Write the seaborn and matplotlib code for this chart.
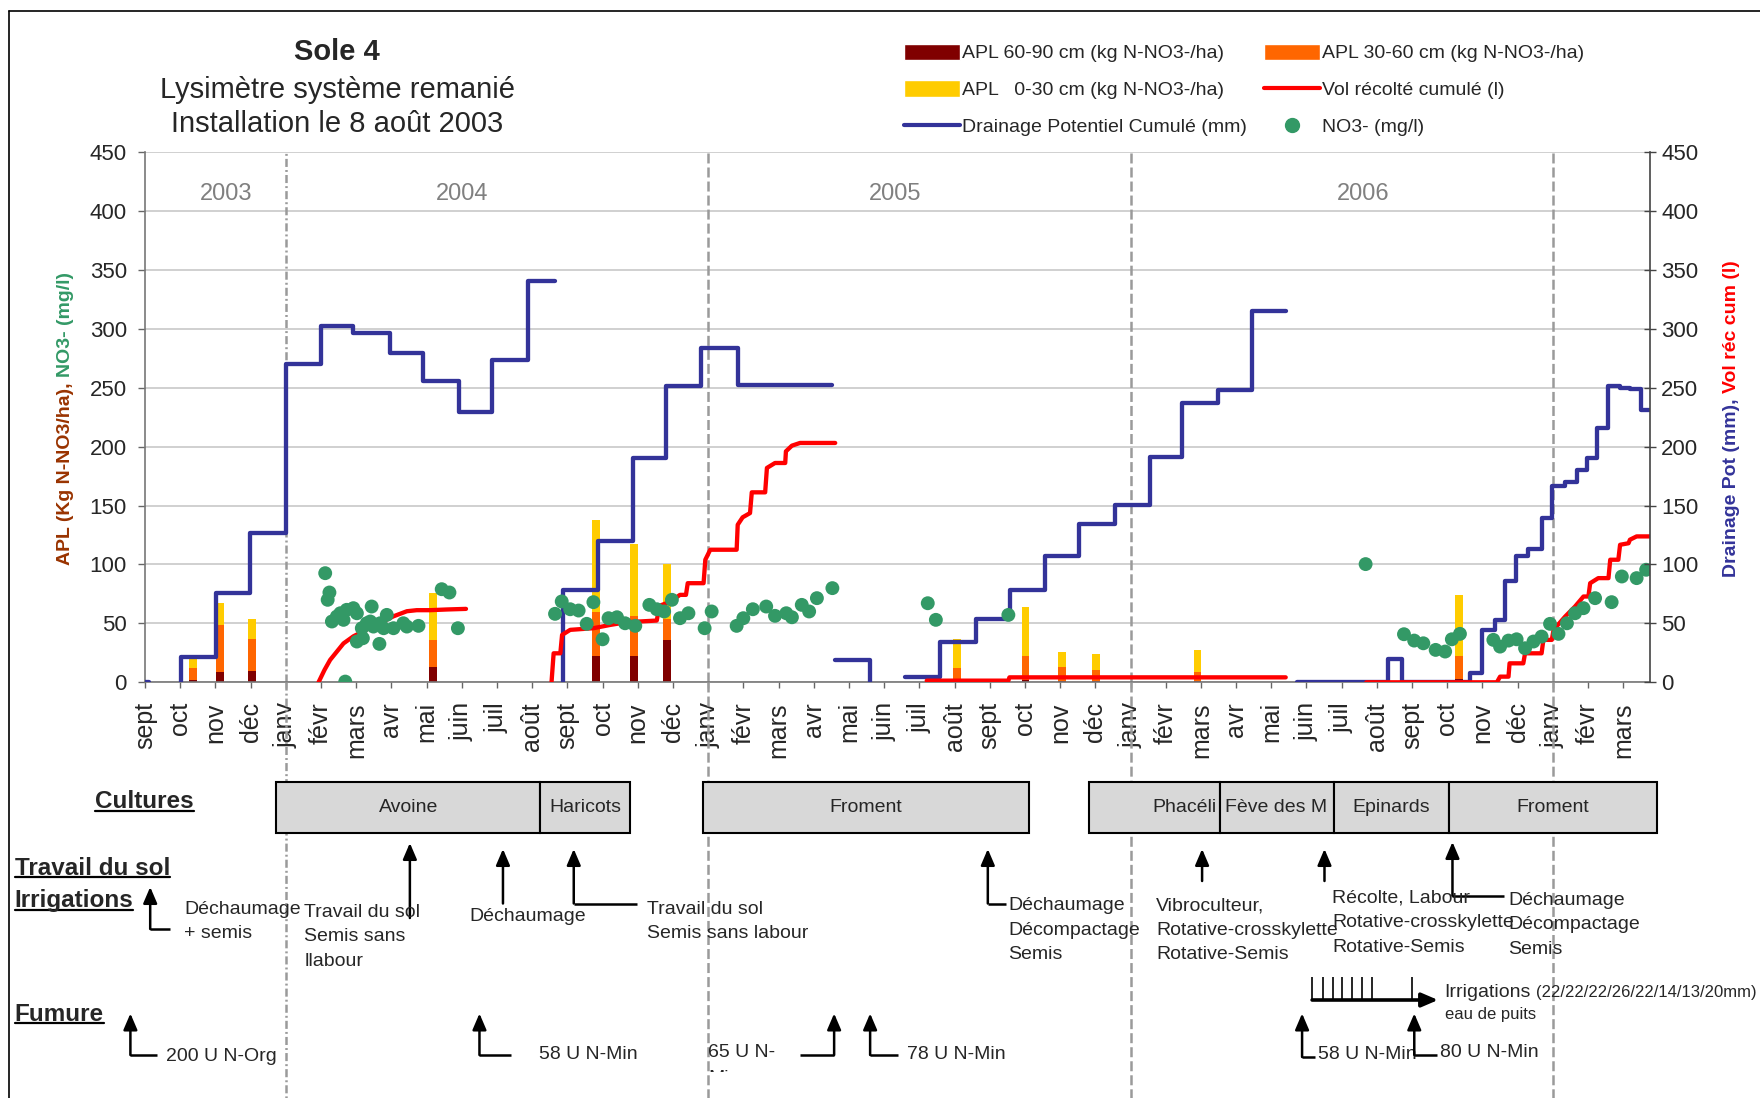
import numpy as np
import pandas as pd
import matplotlib
matplotlib.use("Agg")
import matplotlib.pyplot as plt
import seaborn as sns
from matplotlib.patches import Rectangle, Patch
from matplotlib.lines import Line2D

W, H, DPI = 1760, 1098, 100

# ---------------------------------------------------------------- data
# x positions are in months, 0 = 1 Sept 2003
month_labels = ["sept", "oct", "nov", "déc",
                "janv", "févr", "mars", "avr", "mai", "juin", "juil", "août", "sept", "oct", "nov", "déc",
                "janv", "févr", "mars", "avr", "mai", "juin", "juil", "août", "sept", "oct", "nov", "déc",
                "janv", "févr", "mars", "avr", "mai", "juin", "juil", "août", "sept", "oct", "nov", "déc",
                "janv", "févr", "mars"]
year_starts = [4, 16, 28, 40]
year_labels = ["2003", "2004", "2005", "2006"]
year_label_month = [2.3, 9.0, 21.3, 34.6]

# APL sampling (kg N-NO3/ha per layer)
apl_month = [1.36, 2.14, 3.05, 8.18, 12.81, 13.90, 14.84, 23.08, 25.02, 26.05, 27.02, 29.90, 37.34]
apl_60_90 = [2, 9, 10, 13, 22, 22, 36, 1, 2, 1, 1, 1, 3]
apl_30_60 = [10, 40, 27, 23, 38, 34, 18, 11, 20, 12, 9.5, 8, 19]
apl_0_30 = [11, 18, 17, 40, 78, 61, 46, 25, 42, 13, 13.5, 18.5, 52]

# cumulative potential drainage (mm), one list per continuous record
drain_month = [
    [0.0, 0.12],
    [1.02, 1.02, 2.02, 2.99, 4.00, 5.01, 5.92, 6.97, 7.91, 8.93, 9.87, 10.87, 11.65],
    [11.89, 11.89, 12.86, 13.86, 14.81, 15.80, 16.84, 19.53],
    [19.61, 20.60, 20.60],
    [21.6, 22.59, 23.6, 24.58, 25.57, 26.55, 27.56, 28.56, 29.47, 30.48, 31.44, 32.41],
    [32.72, 35.33, 35.71, 37.65, 38.0, 38.36, 38.64, 38.95, 39.3, 39.68, 39.97, 40.35,
     40.68, 40.96, 41.25, 41.56, 41.91, 42.2, 42.5, 42.74],
]
drain_value = [
    [0, 0],
    [0, 21.8, 75.6, 126.6, 270.3, 302.3, 296.6, 279.6, 255.5, 229.2, 273.9, 340.5, 340.5],
    [0, 78.5, 119.5, 190.4, 251.3, 283.9, 252.7, 252.7],
    [19, 19, 0],
    [4.2, 34.6, 53.8, 78.5, 107.4, 134.6, 150.1, 191.2, 237.1, 247.9, 315.0, 315.0],
    [0, 19.5, 0, 7.6, 44.5, 53, 85.6, 106.8, 113, 139.4, 166.3, 169.7,
     180.5, 190.4, 215.9, 251.3, 249.9, 248.6, 231.4, 231.4],
]

# cumulative harvested volume (l)
vol_month = [
    [4.93, 5.10, 5.26, 5.45, 5.64, 5.92, 6.30, 6.68, 7.06, 7.44, 7.72, 8.10, 8.58, 9.12],
    [11.55, 11.61, 11.80, 11.85, 12.08, 12.74, 13.22, 13.69, 14.54, 14.62, 14.90, 15.20, 15.37,
     15.42, 15.87, 15.92, 16.06, 16.81, 16.84, 16.98, 17.19, 17.24, 17.62, 17.67, 17.90, 18.19,
     18.21, 18.38, 18.61, 19.61],
    [22.21, 24.53, 24.56, 32.41],
    [34.70, 38.41, 38.50, 38.74, 38.77, 39.16, 39.21, 39.68, 39.73, 39.97, 40.02, 40.35, 40.63,
     40.87, 41.01, 41.06, 41.29, 41.58, 41.63, 41.86, 41.91, 42.15, 42.19, 42.38, 42.76],
]
vol_value = [
    [0, 10.5, 19, 26, 33, 39, 44.8, 50.4, 56, 60.3, 61.2, 61.2, 61.8, 62.3],
    [0, 24.6, 24.6, 40.2, 44.5, 45.9, 48.7, 51.0, 52.4, 65.0, 68.0, 74.2, 74.2,
     84.1, 84.1, 104.0, 112.5, 112.5, 133.7, 140.0, 143.6, 161.2, 161.2, 181.9, 186.1, 186.1,
     196.0, 200.8, 203.1, 203.1],
    [1.4, 1.4, 4.2, 4.2],
    [0, 0, 4.8, 4.8, 16.1, 16.1, 24.6, 24.6, 36.0, 36.0, 44.5, 55.8, 64.3,
     72.8, 72.8, 84.1, 88.4, 88.4, 104.0, 104.0, 116.7, 118.0, 121.0, 123.8, 123.8],
]

# nitrate concentration in drainage water (mg/l)
no3_month = [5.12, 5.24, 5.19, 5.31, 5.45, 5.55, 5.64, 5.73, 5.92, 6.02, 6.44, 6.16, 6.30, 6.02,
             6.19, 6.40, 6.49, 6.66, 6.87, 6.68, 6.78, 7.06, 7.34, 7.44, 7.77, 5.69, 8.43, 8.65, 8.89,
             11.65, 11.84, 12.08, 12.32, 12.55, 12.74, 13.00, 13.17, 13.41, 13.64, 13.93, 14.33,
             14.54, 14.75, 14.97, 15.20, 15.44, 15.90, 16.10, 16.81, 17.00, 17.27, 17.65, 17.90,
             18.22, 18.38, 18.66, 18.87, 19.09, 19.53,
             22.24, 22.47, 24.53,
             34.68, 35.77, 36.06, 36.32, 36.67, 36.94, 37.13, 37.36, 38.31, 38.50, 38.74, 38.97,
             39.21, 39.45, 39.68, 39.92, 40.16, 40.40, 40.63, 40.87, 41.20, 41.67, 41.96, 42.38, 42.65]
no3_value = [92.6, 76.2, 70.0, 51.6, 55.8, 58.6, 53.0, 61.5, 62.9, 58.6, 64.3, 45.9, 50.1, 34.6,
             37.4, 51.6, 47.3, 32.6, 57.2, 50.1, 45.9, 45.9, 50.1, 47.3, 47.9, 0.6, 79.0, 76.2, 45.9,
             58.1, 68.6, 62.0, 60.9, 49.6, 68.0, 36.5, 54.4, 55.2, 50.1, 47.9, 65.7,
             62.0, 60.1, 70.0, 54.4, 58.6, 45.9, 60.1, 47.9, 54.4, 62.0, 64.3, 56.4,
             58.6, 55.2, 65.7, 60.1, 71.4, 79.9,
             67.1, 53.0, 57.2,
             100.3, 40.8, 35.4, 33.1, 27.5, 26.1, 36.5, 41.1, 36.0, 30.3, 35.4, 36.5,
             28.9, 34.6, 38.8, 49.6, 41.1, 50.1, 58.6, 62.9, 71.4, 68.0, 89.8, 88.4, 95.5]

# crop calendar (start month, end month, label)
crop_start = [3.73, 11.23, 15.85, 26.82, 30.53, 33.77, 37.04]
crop_end = [11.23, 13.78, 25.12, 30.53, 33.77, 37.04, 42.97]
crop_names = ["Avoine", "Haricots", "Froment", "Phacéli", "Fève des M", "Epinards", "Froment"]

irrigation_month = [33.16, 33.47, 33.76, 34.01, 34.29, 34.57, 34.86, 36.0]

# ---------------------------------------------------------------- style
sns.set_theme(style="white")
plt.rcParams["font.family"] = ["Liberation Sans", "DejaVu Sans"]
plt.rcParams["lines.scale_dashes"] = False
plt.rcParams["axes.unicode_minus"] = False

C_DEEP, C_MID, C_TOP = "#800000", "#FF6600", "#FFCC00"
C_DRAIN, C_VOL, C_NO3 = "#333399", "#FF0000", "#339966"
C_YEARLINE = "#9A9A9A"
X_MAX = 42.76

fig = plt.figure(figsize=(W / DPI, H / DPI), dpi=DPI)
fig.patch.set_facecolor("white")
renderer = fig.canvas.get_renderer()


def fxy(x, y):
    """pixel position (from top-left) -> figure fraction"""
    return x / W, 1 - y / H


AX_L, AX_R, AX_T, AX_B = 145, 1650, 152, 682.3
ax = fig.add_axes([AX_L / W, 1 - AX_B / H, (AX_R - AX_L) / W, (AX_B - AX_T) / H])
ax.set_xlim(0, X_MAX)
ax.set_ylim(0, 450)
ax.set_facecolor("white")
ax.set_axisbelow(True)
ax.grid(axis="y", color="#C4C4C4", lw=1.1)
ax.grid(axis="x", visible=False)

# stacked APL bars
bw = 0.22
ax.bar(apl_month, apl_60_90, width=bw, color=C_DEEP, lw=0, zorder=2)
ax.bar(apl_month, apl_30_60, bottom=apl_60_90, width=bw, color=C_MID, lw=0, zorder=2)
ax.bar(apl_month, apl_0_30, bottom=np.add(apl_60_90, apl_30_60), width=bw, color=C_TOP, lw=0, zorder=2)


def seg_frame(months, values):
    rows = []
    for k, (ms, vs) in enumerate(zip(months, values)):
        rows += [(k, m, v) for m, v in zip(ms, vs)]
    return pd.DataFrame(rows, columns=["seg", "month", "value"])


sns.lineplot(data=seg_frame(drain_month, drain_value), x="month", y="value", units="seg",
             estimator=None, sort=False, color=C_DRAIN, linewidth=3.1, drawstyle="steps-post",
             ax=ax, zorder=3, legend=False)
sns.lineplot(data=seg_frame(vol_month, vol_value), x="month", y="value", units="seg",
             estimator=None, sort=False, color=C_VOL, linewidth=3.1,
             ax=ax, zorder=4, legend=False)
sns.scatterplot(x=no3_month, y=no3_value, color=C_NO3, s=100, edgecolor="none",
                ax=ax, zorder=5, legend=False)

# year separators and labels
for i, m in enumerate(year_starts):
    ls = (0, (5.8, 2.2, 1.4, 2.2)) if i == 0 else (0, (7.2, 2.9))
    ax.axvline(m, color=C_YEARLINE, lw=1.8, ls=ls, zorder=1)
for lab, m in zip(year_labels, year_label_month):
    ax.text(m, 414, lab, color="#808080", fontsize=17, ha="center", va="center")

ax.set_xlabel("")
ax.set_ylabel("")
ax.set_xticks(range(len(month_labels)))
ax.set_xticklabels(month_labels, rotation=90, fontsize=18)
ax.set_yticks(range(0, 451, 50))
ax.tick_params(axis="x", bottom=True, direction="out", length=4.3, width=1, color="#666666", pad=10)
ax.tick_params(axis="y", left=True, direction="out", length=5, width=1, color="#666666",
               labelsize=16, pad=8)
for s in ["top", "right"]:
    ax.spines[s].set_visible(False)
for s in ["left", "bottom"]:
    ax.spines[s].set_color("#777777")
    ax.spines[s].set_linewidth(1.2)

ax_r = ax.twinx()
ax_r.set_ylim(0, 450)
ax_r.set_yticks(range(0, 451, 50))
ax_r.tick_params(axis="y", right=True, direction="inout", length=8, width=1, color="#444444",
                 labelsize=16, pad=4)
for s in ["top", "left", "bottom"]:
    ax_r.spines[s].set_visible(False)
ax_r.spines["right"].set_color("#444444")
ax_r.spines["right"].set_linewidth(1.2)
ax_r.grid(False)


# two-colour rotated axis titles
def vertical_title(x_px, y_bottom_px, parts, size=14):
    x, y = fxy(x_px, y_bottom_px)
    for txt, col in parts:
        t = fig.text(x, y, txt, rotation=90, ha="center", va="bottom", color=col,
                     fontsize=size, fontweight="bold")
        bb = t.get_window_extent(renderer)
        y = (bb.y1 + 5.5) / H


vertical_title(65, 565, [("APL (Kg N-NO3/ha),", "#993300"), ("NO3- (mg/l)", C_NO3)])
vertical_title(1731, 577, [("Drainage Pot (mm),", C_DRAIN), ("Vol réc cum (l)", C_VOL)])

# titles
fig.text(*fxy(337, 52.5), "Sole 4", ha="center", va="center", fontsize=21, fontweight="bold")
fig.text(*fxy(337, 89.5), "Lysimètre système remanié", ha="center", va="center", fontsize=21)
fig.text(*fxy(337, 124), "Installation le 8 août 2003", ha="center", va="center", fontsize=21)

# legend
handles = [Patch(facecolor=C_DEEP), Patch(facecolor=C_TOP),
           Line2D([], [], color=C_DRAIN, lw=3),
           Patch(facecolor=C_MID), Line2D([], [], color=C_VOL, lw=3),
           Line2D([], [], color=C_NO3, marker="o", ls="none", markersize=10)]
labels = ["APL 60-90 cm (kg N-NO3-/ha)", "APL   0-30 cm (kg N-NO3-/ha)",
          "Drainage Potentiel Cumulé (mm)", "APL 30-60 cm (kg N-NO3-/ha)",
          "Vol récolté cumulé (l)", "NO3- (mg/l)"]
fig.legend(handles, labels, loc="upper left", bbox_to_anchor=fxy(903.5, 43.5), ncol=2,
           frameon=False, fontsize=14, borderpad=0, borderaxespad=0, handlelength=2.89,
           handletextpad=0.12, columnspacing=0.87, labelspacing=0.93, handleheight=0.9)

# frame
fig.add_artist(Line2D([8.5 / W, 8.5 / W], [0, 1 - 10.5 / H], color="black", lw=1.2,
                      transform=fig.transFigure))
fig.add_artist(Line2D([8.5 / W, 1], [1 - 10.5 / H, 1 - 10.5 / H], color="black", lw=1.2,
                      transform=fig.transFigure))

# ---------------------------------------------------------------- field operations panel
ax2 = fig.add_axes([AX_L / W, 0, (AX_R - AX_L) / W, 1 - AX_B / H])
ax2.set_xlim(0, X_MAX)
ax2.set_ylim(H, AX_B)
ax2.axis("off")


def mpx(x_px):
    return (x_px - 144.8) / 35.2


for i, m in enumerate(year_starts):
    ls = (0, (5.8, 2.2, 1.4, 2.2)) if i == 0 else (0, (7.2, 2.9))
    ax2.vlines(m, AX_B, H, color=C_YEARLINE, lw=1.8, ls=ls, zorder=1, clip_on=False)

for m0, m1, name in zip(crop_start, crop_end, crop_names):
    ax2.add_patch(Rectangle((m0, 782), m1 - m0, 51, facecolor="#D8D8D8", edgecolor="black",
                            lw=1.5, zorder=3, clip_on=False))
    if name == "Phacéli":
        ax2.text(m1 - 0.07, 807, name, ha="right", va="center", fontsize=14, zorder=4, clip_on=False)
    elif name == "Fève des M":
        ax2.text(m0 + 0.16, 807, name, ha="left", va="center", fontsize=14, zorder=4, clip_on=False)
    else:
        ax2.text((m0 + m1) / 2, 807, name, ha="center", va="center", fontsize=14, zorder=4,
                 clip_on=False)


def underlined(x_px, y_px, text, size=17.5):
    t = fig.text(*fxy(x_px, y_px), text, fontsize=size, fontweight="bold", ha="left", va="center")
    bb = t.get_window_extent(renderer)
    yl = (bb.y0 + 3.0) / H
    fig.add_artist(Line2D([bb.x0 / W, bb.x1 / W], [yl, yl], color="black", lw=1.6,
                          transform=fig.transFigure))


underlined(95, 802, "Cultures")
underlined(14.6, 868.5, "Travail du sol")
underlined(14.6, 901, "Irrigations")
underlined(14.6, 1014.4, "Fumure")


def up_arrow(m, y_top, y_bot, m_foot=None):
    ax2.annotate("", xy=(m, y_top), xytext=(m, y_bot), annotation_clip=False,
                 arrowprops=dict(arrowstyle="-|>,head_length=0.7,head_width=0.3", lw=1.8,
                                 color="black", shrinkA=0, shrinkB=0, mutation_scale=14))
    if m_foot is not None:
        ax2.plot([m, m_foot], [y_bot, y_bot], color="black", lw=1.8, clip_on=False,
                 solid_capstyle="butt")


def note(m, y_first, lines, step=24.7, size=14):
    for k, line in enumerate(lines):
        ax2.text(m, y_first + k * step, line, ha="left", va="center", fontsize=size, clip_on=False)


# soil work
up_arrow(mpx(150), 887, 929, mpx(170))
note(mpx(183.7), 909, ["Déchaumage", "+ semis"])
up_arrow(mpx(409.7), 843, 918)
note(mpx(304), 912, ["Travail du sol", "Semis sans", "llabour"])
up_arrow(mpx(502.8), 849, 903.5)
note(mpx(469), 916.8, ["Déchaumage"])
up_arrow(mpx(573.6), 849, 903.5, mpx(636.4))
note(mpx(646.5), 909, ["Travail du sol", "Semis sans labour"])
up_arrow(mpx(987.7), 849, 903.5, mpx(1005.7))
note(mpx(1008), 905.5, ["Déchaumage", "Décompactage", "Semis"])
up_arrow(mpx(1202), 849, 881)
note(mpx(1156), 905.5, ["Vibroculteur,", "Rotative-crosskylette", "Rotative-Semis"])
up_arrow(mpx(1324.4), 849, 881)
note(mpx(1332.3), 897.7, ["Récolte, Labour", "Rotative-crosskylette", "Rotative-Semis"])
up_arrow(mpx(1452.4), 842, 895.7, mpx(1504))
note(mpx(1508.5), 900, ["Déchaumage", "Décompactage", "Semis"])

# irrigations
ax2.vlines(irrigation_month, 977, 1000, color="black", lw=1.2, clip_on=False)
ax2.annotate("", xy=(mpx(1438), 1000), xytext=(irrigation_month[0], 1000), annotation_clip=False,
             arrowprops=dict(arrowstyle="-|>,head_length=0.7,head_width=0.3", lw=2.6,
                             color="black", shrinkA=0, shrinkB=0, mutation_scale=14))
t_irr = ax2.text(mpx(1444.5), 997, "Irrigations", ha="left", va="baseline", fontsize=14,
                 clip_on=False)
bb = t_irr.get_window_extent(renderer)
fig.text((bb.x1 + 5) / W, 1 - 997 / H, "(22/22/22/26/22/14/13/20mm)", ha="left",
         va="baseline", fontsize=12)
ax2.text(mpx(1444.5), 1014.5, "eau de puits", ha="left", va="center", fontsize=12, clip_on=False)

# fertilisation
up_arrow(mpx(130.2), 1013.5, 1055, mpx(157))
note(mpx(166), 1056, ["200 U N-Org"])
up_arrow(mpx(479.3), 1013.5, 1055, mpx(510.7))
note(mpx(538.8), 1054, ["58 U N-Min"])
up_arrow(mpx(834), 1013.5, 1055, mpx(800))
note(mpx(708), 1052, ["65 U N-"])
t_cut = ax2.text(mpx(708), 1078, "Min", ha="left", va="center", fontsize=14, clip_on=True)
clip_rect = Rectangle((mpx(700), 1060), 3, 11.5, transform=ax2.transData, visible=False)
ax2.add_patch(clip_rect)
t_cut.set_clip_path(clip_rect)
up_arrow(mpx(870), 1013.5, 1055, mpx(898))
note(mpx(907), 1054, ["78 U N-Min"])
up_arrow(mpx(1302), 1013.5, 1057, mpx(1315))
note(mpx(1317.7), 1054, ["58 U N-Min"])
up_arrow(mpx(1414.2), 1013.5, 1055, mpx(1436.7))
note(mpx(1440), 1052, ["80 U N-Min"])

fig.savefig("out.png", dpi=DPI, facecolor="white")
